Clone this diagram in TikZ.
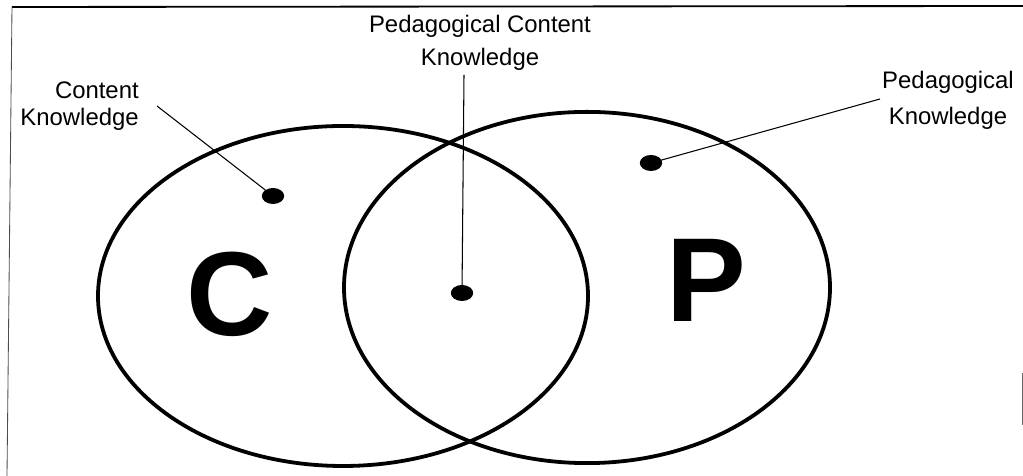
\documentclass[tikz,border=0pt]{standalone}
\usepackage{fontspec}
\setmainfont{Liberation Sans}
\usetikzlibrary{shapes.geometric}

\begin{document}
\begin{tikzpicture}[
    labeltext/.style={font=\fontsize{17}{20}\selectfont,inner sep=0pt},
    bigletter/.style={font=\fontsize{85}{90}\selectfont\bfseries,inner sep=0pt},
    blob/.style={ellipse,fill=black,inner sep=0pt,minimum width=0.56cm,minimum height=0.4cm},
    ring/.style={line width=2.7pt},
    leader/.style={line width=0.75pt}
  ]
    \useasboundingbox (0,0) rectangle (25.575,11.9);
    % frame of the scan
    \draw[line width=1.3pt] (0.3,11.725) -- (25.575,11.75);
    \draw[line width=0.6pt,black!70] (0.3,11.725) -- (0.175,0);
    \draw[line width=0.6pt,black!60] (25.55,2.575) -- (25.55,1.275);
    % the two circles
    \draw[ring] (8.575,4.5) ellipse [x radius=6.125, y radius=4.25];
    \draw[ring] (14.675,4.7125) ellipse [x radius=6.075, y radius=4.39];
    \node[bigletter] (c) at (5.74,4.54) {C};
    \node[bigletter] (p) at (17.65,4.9) {P};
    % dots
    \node[blob] (ckdot) at (6.825,7.0) {};
    \node[blob] (pckdot) at (11.55,4.575) {};
    \node[blob] (pkdot) at (16.275,7.825) {};
    % labels
    \node[labeltext,align=right,anchor=east] (ck) at (3.475,9.25) {Content\\[-1pt]Knowledge};
    \node[labeltext,align=center] (pck) at (12.0,10.83) {Pedagogical Content\\[3pt]Knowledge};
    \node[labeltext,align=center] (pk) at (23.7,9.39) {Pedagogical\\[6pt]Knowledge};
    % leader lines
    \coordinate (ckend) at (3.925,9.25);
    \coordinate (pckend) at (11.6,10.025);
    \coordinate (pkend) at (22.0,9.425);
    \draw[leader] (ckend) -- (ckdot.center);
    \draw[leader] (pckend) -- (pckdot.center);
    \draw[leader] (pkend) -- (pkdot.center);
  \end{tikzpicture}
\end{document}
